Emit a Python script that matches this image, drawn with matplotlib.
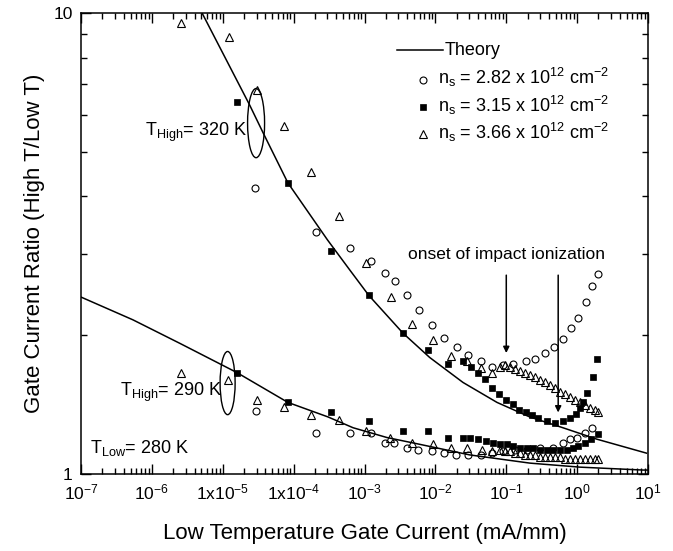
import matplotlib
matplotlib.use("Agg")
import matplotlib.pyplot as plt
from matplotlib.patches import Ellipse
from matplotlib.ticker import FixedLocator, FixedFormatter, LogLocator, NullFormatter

plt.rcParams['font.family'] = ['Liberation Sans', 'DejaVu Sans']
plt.rcParams['mathtext.fontset'] = 'custom'
plt.rcParams['mathtext.rm'] = 'Liberation Sans'
plt.rcParams['mathtext.it'] = 'Liberation Sans:italic'
plt.rcParams['mathtext.bf'] = 'Liberation Sans:bold'

# ---- theory curves ----
theory320_x = [5.1e-6, 2.4e-5, 3.7e-5, 8.3e-5, 3.0e-4, 6.2e-4, 1.15e-3, 3.5e-3, 8.3e-3,
               2.45e-2, 7.4e-2, 0.214, 0.63, 1.9, 9.5]
theory320_y = [10.0, 6.31, 5.50, 4.28, 3.22, 2.77, 2.44, 2.02, 1.79,
               1.58, 1.43, 1.33, 1.26, 1.19, 1.11]
theory290_x = [1.0e-7, 5.4e-7, 2.49e-6, 1.58e-5, 8.3e-5, 3.05e-4, 6.9e-4, 2.07e-3, 6.0e-3,
               3.07e-2, 0.215, 1.09, 8.5, 10.0]
theory290_y = [2.42, 2.16, 1.92, 1.66, 1.43, 1.33, 1.26, 1.20, 1.16,
               1.10, 1.056, 1.035, 1.02, 1.02]

# ---- T_High = 320 K data ----
hi_circ_x = [2.84e-5, 2.07e-4, 6.2e-4, 1.23e-3, 1.94e-3, 2.69e-3, 3.96e-3, 5.85e-3, 8.9e-3,
             1.32e-2, 2.01e-2, 2.87e-2, 4.39e-2, 6.27e-2, 8.95e-2, 0.124, 0.189, 0.253,
             0.350, 0.469, 0.628, 0.815, 1.02, 1.33, 1.61, 1.96]
hi_circ_y = [4.17, 3.35, 3.09, 2.90, 2.73, 2.62, 2.45, 2.27, 2.10,
             1.97, 1.89, 1.81, 1.76, 1.71, 1.72, 1.73, 1.76, 1.78,
             1.83, 1.89, 1.96, 2.07, 2.18, 2.36, 2.56, 2.72]
hi_sq_x = [1.58e-5, 8.3e-5, 3.36e-4, 1.15e-3, 3.48e-3, 7.8e-3, 1.50e-2, 2.44e-2, 3.17e-2,
           3.97e-2, 4.99e-2, 6.27e-2, 7.87e-2, 9.87e-2, 0.124, 0.151, 0.189, 0.230, 0.279,
           0.374, 0.484, 0.628, 0.789, 0.96, 1.09, 1.20, 1.37, 1.66, 1.90]
hi_sq_y = [6.41, 4.28, 3.05, 2.45, 2.02, 1.86, 1.73, 1.76, 1.71,
           1.66, 1.61, 1.54, 1.49, 1.45, 1.42, 1.38, 1.36, 1.34, 1.32,
           1.30, 1.29, 1.30, 1.32, 1.35, 1.39, 1.43, 1.50, 1.62, 1.78]
hi_tri_x = [2.57e-6, 1.22e-5, 3.03e-5, 7.3e-5, 1.75e-4, 4.35e-4, 1.05e-3, 2.36e-3, 4.67e-3,
            9.2e-3, 1.66e-2, 2.78e-2, 4.39e-2, 6.27e-2, 8.1e-2, 9.5e-2, 0.112, 0.132, 0.156,
            0.183, 0.215, 0.253, 0.298, 0.350, 0.412, 0.484, 0.570, 0.670, 0.789, 0.93,
            1.09, 1.28, 1.51, 1.78, 1.96]
hi_tri_y = [9.51, 8.87, 6.81, 5.69, 4.52, 3.63, 2.87, 2.42, 2.12,
            1.95, 1.80, 1.76, 1.70, 1.66, 1.71, 1.72, 1.71, 1.69, 1.67,
            1.66, 1.64, 1.62, 1.60, 1.58, 1.56, 1.54, 1.51, 1.49, 1.47, 1.45,
            1.43, 1.41, 1.39, 1.38, 1.36]

# ---- T_High = 290 K data ----
lo_circ_x = [2.94e-5, 2.07e-4, 6.2e-4, 1.23e-3, 1.94e-3, 2.60e-3, 3.96e-3, 5.66e-3, 8.9e-3,
             1.32e-2, 1.95e-2, 2.87e-2, 4.39e-2, 6.27e-2, 8.95e-2, 0.132, 0.195, 0.298,
             0.454, 0.628, 0.789, 0.99, 1.28, 1.61]
lo_circ_y = [1.37, 1.23, 1.23, 1.23, 1.17, 1.17, 1.14, 1.13, 1.12,
             1.11, 1.10, 1.10, 1.10, 1.11, 1.12, 1.13, 1.13, 1.14,
             1.14, 1.17, 1.19, 1.20, 1.23, 1.26]
lo_sq_x = [1.58e-5, 8.3e-5, 3.36e-4, 1.15e-3, 3.48e-3, 7.8e-3, 1.50e-2, 2.44e-2, 3.07e-2,
           3.97e-2, 5.15e-2, 6.47e-2, 8.1e-2, 0.102, 0.124, 0.156, 0.195, 0.237, 0.298,
           0.374, 0.454, 0.570, 0.716, 0.869, 1.02, 1.28, 1.56, 1.96]
lo_sq_y = [1.66, 1.43, 1.36, 1.30, 1.24, 1.24, 1.20, 1.20, 1.20,
           1.19, 1.18, 1.17, 1.16, 1.16, 1.15, 1.14, 1.14, 1.14, 1.13,
           1.13, 1.13, 1.13, 1.13, 1.14, 1.15, 1.17, 1.19, 1.22]
lo_tri_x = [2.57e-6, 1.18e-5, 3.03e-5, 7.3e-5, 1.75e-4, 4.35e-4, 1.05e-3, 2.28e-3, 4.67e-3,
            9.2e-3, 1.66e-2, 2.78e-2, 4.53e-2, 6.27e-2, 8.1e-2, 9.5e-2, 0.112, 0.132, 0.156,
            0.183, 0.215, 0.253, 0.298, 0.350, 0.412, 0.484, 0.570, 0.670, 0.789, 0.93,
            1.09, 1.28, 1.51, 1.78, 1.96]
lo_tri_y = [1.66, 1.60, 1.45, 1.40, 1.34, 1.31, 1.24, 1.20, 1.17,
            1.16, 1.14, 1.14, 1.13, 1.12, 1.13, 1.12, 1.12, 1.11, 1.11,
            1.10, 1.10, 1.10, 1.09, 1.09, 1.09, 1.09, 1.09, 1.08, 1.08, 1.08,
            1.08, 1.08, 1.08, 1.08, 1.08]

x_ticks = [1e-7, 1e-6, 1e-5, 1e-4, 1e-3, 1e-2, 1e-1, 1e0, 1e1]
x_ticklabels = [r'$10^{-7}$', r'$10^{-6}$', r'1x$10^{-5}$', r'1x$10^{-4}$', r'$10^{-3}$',
                r'$10^{-2}$', r'$10^{-1}$', r'$10^{0}$', r'$10^{1}$']
y_ticks = [1, 10]
y_ticklabels = ['1', '10']

legend_labels = ['Theory',
                 r'n$_\mathrm{s}$ = 2.82 x 10$^{12}$ cm$^{-2}$',
                 r'n$_\mathrm{s}$ = 3.15 x 10$^{12}$ cm$^{-2}$',
                 r'n$_\mathrm{s}$ = 3.66 x 10$^{12}$ cm$^{-2}$']

circ = dict(ls='none', marker='o', ms=5, mfc='none', mec='black', mew=0.8)
sq = dict(ls='none', marker='s', ms=4.5, mfc='black', mec='black', mew=0.5)
tri = dict(ls='none', marker='^', ms=5.5, mfc='none', mec='black', mew=0.8)

fig, ax = plt.subplots(figsize=(6.73, 5.51), dpi=100)
fig.subplots_adjust(left=0.1204, right=0.9629, bottom=0.1397, top=0.9764)
ax.set_xscale('log')
ax.set_yscale('log')
ax.set_xlim(1e-7, 10)
ax.set_ylim(1, 10)

ax.plot(theory320_x, theory320_y, color='black', lw=1.1)
ax.plot(theory290_x, theory290_y, color='black', lw=1.1)
for (xs, ys, st) in [(hi_circ_x, hi_circ_y, circ), (lo_circ_x, lo_circ_y, circ),
                     (hi_sq_x, hi_sq_y, sq), (lo_sq_x, lo_sq_y, sq),
                     (hi_tri_x, hi_tri_y, tri), (lo_tri_x, lo_tri_y, tri)]:
    ax.plot(xs, ys, **st)

# axes
ax.xaxis.set_major_locator(FixedLocator(x_ticks))
ax.xaxis.set_major_formatter(FixedFormatter(x_ticklabels))
ax.xaxis.set_minor_locator(LogLocator(base=10, subs=range(2, 10), numticks=20))
ax.xaxis.set_minor_formatter(NullFormatter())
ax.yaxis.set_major_locator(FixedLocator(y_ticks))
ax.yaxis.set_major_formatter(FixedFormatter(y_ticklabels))
ax.yaxis.set_minor_locator(LogLocator(base=10, subs=range(2, 10), numticks=20))
ax.yaxis.set_minor_formatter(NullFormatter())
ax.tick_params(which='both', direction='in', top=True, right=True, width=1, labelsize=12.5)
ax.tick_params(which='major', length=7)
ax.tick_params(which='minor', length=4.5)
ax.tick_params(axis='x', pad=6)
ax.tick_params(axis='y', pad=6)
for sp in ax.spines.values():
    sp.set_linewidth(1.1)

ax.set_xlabel('Low Temperature Gate Current (mA/mm)', fontsize=16, labelpad=15)
ax.set_ylabel('Gate Current Ratio (High T/Low T)', fontsize=16, labelpad=6)

# legend drawn by hand so handle/text offsets match
tr = ax.transAxes
ax.plot([0.557, 0.638], [0.920, 0.920], color='black', lw=1.1, transform=tr)
ax.text(0.642, 0.909, legend_labels[0], fontsize=13, transform=tr, va='baseline')
for (yy, st, lab) in [(0.855, circ, legend_labels[1]), (0.796, sq, legend_labels[2]),
                      (0.7375, tri, legend_labels[3])]:
    ax.plot([0.603], [yy], transform=tr, **st)
    ax.text(0.6296, yy - 0.0098, lab, fontsize=13, transform=tr, va='baseline')

# annotations
ax.text(8.0e-7, 5.41, r'T$_\mathrm{High}$= 320 K', fontsize=13, va='baseline')
ax.text(3.55e-7, 1.48, r'T$_\mathrm{High}$= 290 K', fontsize=13, va='baseline')
ax.text(1.34e-7, 1.11, r'T$_\mathrm{Low}$= 280 K', fontsize=13, va='baseline')
ax.text(0.1, 2.99, 'onset of impact ionization', fontsize=12.5, ha='center', va='center')

arrow = dict(arrowstyle='-|>', color='black', lw=1.1, mutation_scale=9, shrinkA=0, shrinkB=0)
ax.annotate('', xy=(0.1, 1.83), xytext=(0.1, 2.70), arrowprops=arrow)
ax.annotate('', xy=(0.54, 1.36), xytext=(0.54, 2.70), arrowprops=arrow)

to_axes = ax.transScale + ax.transLimits
for (cx, cy, w, h) in [(2.95e-5, 5.77, 0.030, 0.150), (1.17e-5, 1.575, 0.0265, 0.137)]:
    c = to_axes.transform((cx, cy))
    ax.add_patch(Ellipse(c, w, h, transform=tr, fill=False, ec='black', lw=1.0))

fig.savefig('out.png', dpi=100)
